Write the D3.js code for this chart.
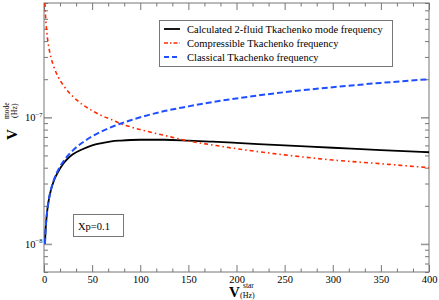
<!DOCTYPE html>
<html><head><meta charset="utf-8">
<script src="https://cdn.jsdelivr.net/npm/d3@7"></script>
<style>body{margin:0;background:#fff}svg{display:block}svg text{font-family:"Liberation Serif","Times New Roman","DejaVu Serif",serif !important}</style>
</head><body><svg id="c" width="439" height="300" font-family="Liberation Serif, Times New Roman, DejaVu Serif, serif"></svg>
<script>
// Data
const nuStar = [1,1.5,2,3,5,7.5,10,15,20,25,30,40,50,60,70,80,90,100,125,150,175,200,250,300,350,400];
const calculated2Fluid = [1.0e-8,1.22e-8,1.41e-8,1.73e-8,2.23e-8,2.72e-8,3.12e-8,3.75e-8,4.3e-8,4.75e-8,5.1e-8,5.6e-8,6.0e-8,6.25e-8,6.45e-8,6.55e-8,6.62e-8,6.65e-8,6.65e-8,6.55e-8,6.42e-8,6.28e-8,6.0e-8,5.75e-8,5.5e-8,5.3e-8];
const compressible = [8.0e-7,6.53e-7,5.66e-7,4.62e-7,3.58e-7,2.92e-7,2.53e-7,2.07e-7,1.79e-7,1.6e-7,1.46e-7,1.26e-7,1.13e-7,1.03e-7,9.6e-8,8.9e-8,8.4e-8,8.0e-8,7.2e-8,6.5e-8,6.05e-8,5.65e-8,5.05e-8,4.6e-8,4.3e-8,4.0e-8];
const classical = [1.0e-8,1.22e-8,1.41e-8,1.73e-8,2.24e-8,2.74e-8,3.16e-8,3.87e-8,4.47e-8,5.0e-8,5.48e-8,6.32e-8,7.07e-8,7.75e-8,8.37e-8,8.94e-8,9.49e-8,1.0e-7,1.12e-7,1.22e-7,1.32e-7,1.41e-7,1.58e-7,1.73e-7,1.87e-7,2.0e-7];
const seriesNames = ["Calculated 2-fluid Tkachenko mode frequency","Compressible Tkachenko frequency","Classical Tkachenko frequency"];
const xTicks = [0,50,100,150,200,250,300,350,400];
const yMajor = [1e-8,1e-7];
const annotation = "Xp=0.1";

const FONT="Liberation Serif, Times New Roman, DejaVu Serif, serif";
const L=44, R=429, T=3, B=272;
const svg=d3.select("#c");
const x=d3.scaleLinear().domain([0,400]).range([L,R]);
const y=d3.scaleLog().domain([6e-9,8e-7]).range([B,T]);

svg.append("defs").append("clipPath").attr("id","clip").append("rect")
  .attr("x",L).attr("y",T).attr("width",R-L).attr("height",B-T);

const xMinor=d3.range(0,400.01,50/3).filter(v=>Math.abs(v/50-Math.round(v/50))>0.01);
const yMinor=[];
[1e-9,1e-8,1e-7].forEach(d=>{for(let k=2;k<=9;k++){const v=k*d;if(v>=6e-9&&v<=8e-7)yMinor.push(v);}});

const tc="#777";
function clean(g){g.select(".domain").remove(); g.attr("font-family",FONT); g.selectAll("line").attr("stroke",tc); return g;}
const gb=clean(svg.append("g").attr("transform",`translate(0,${B})`).call(d3.axisBottom(x).tickValues(xTicks).tickSizeInner(-7).tickSizeOuter(0).tickPadding(4).tickFormat(d3.format("d"))));
gb.selectAll("text").attr("font-size",10.5).attr("fill","#000").attr("font-family",FONT);
clean(svg.append("g").attr("transform",`translate(0,${T})`).call(d3.axisTop(x).tickValues(xTicks).tickSizeInner(-7).tickSizeOuter(0).tickFormat("")));
clean(svg.append("g").attr("transform",`translate(0,${B})`).call(d3.axisBottom(x).tickValues(xMinor).tickSizeInner(-3.5).tickSizeOuter(0).tickFormat("")));
clean(svg.append("g").attr("transform",`translate(0,${T})`).call(d3.axisTop(x).tickValues(xMinor).tickSizeInner(-3.5).tickSizeOuter(0).tickFormat("")));
[[d3.axisLeft,L],[d3.axisRight,R]].forEach(([f,pos])=>{
  const g1=clean(svg.append("g").attr("transform",`translate(${pos},0)`).call(f(y).tickValues(yMajor).tickSizeInner(-8).tickSizeOuter(0).tickFormat("")));
  g1.selectAll("line").attr("stroke","#999").attr("stroke-width",1.6);
  clean(svg.append("g").attr("transform",`translate(${pos},0)`).call(f(y).tickValues(yMinor).tickSizeInner(-4).tickSizeOuter(0).tickFormat("")));
});
yMajor.forEach(v=>{
  const e=Math.round(Math.log10(v));
  const t=svg.append("text").attr("x",25).attr("y",y(v)+4).attr("font-size",10.5).attr("fill","#000").attr("font-family",FONT);
  t.append("tspan").text("10");
  t.append("tspan").attr("font-size",6.5).attr("dy",-4.5).text("\u2212"+Math.abs(e));
});
svg.append("rect").attr("x",L).attr("y",T).attr("width",R-L).attr("height",B-T)
  .attr("fill","none").attr("stroke",tc).attr("stroke-width",1);

const line=vals=>d3.line().x((d,i)=>x(nuStar[i])).y(d=>y(d)).curve(d3.curveMonotoneX)(vals);
const plot=svg.append("g").attr("clip-path","url(#clip)");
const styles=[
  {data:calculated2Fluid,color:"#000",w:1.8,dash:null},
  {data:compressible,color:"#ff2a00",w:1.6,dash:"4,3,1.5,3"},
  {data:classical,color:"#1f4fff",w:2,dash:"6,3"}
];
styles.forEach(s=>{
  plot.append("path").attr("d",line(s.data)).attr("fill","none").attr("stroke",s.color)
   .attr("stroke-width",s.w).attr("stroke-dasharray",s.dash);
});

const lg=svg.append("g").attr("font-family",FONT);
lg.append("rect").attr("x",159.5).attr("y",20.5).attr("width",233).attr("height",46)
  .attr("fill","#fff").attr("stroke",tc).attr("stroke-width",1);
seriesNames.forEach((n,i)=>{
  const yy=29+i*14;
  lg.append("line").attr("x1",164).attr("x2",180).attr("y1",yy).attr("y2",yy)
    .attr("stroke",styles[i].color).attr("stroke-width",styles[i].w).attr("stroke-dasharray",i==1?"4,2,1.5,2":(i==2?"5,3":null));
  lg.append("text").attr("x",187).attr("y",yy+3.5).attr("font-size",10.5).attr("fill","#000").attr("font-family",FONT).text(n);
});

svg.append("rect").attr("x",73.5).attr("y",214.5).attr("width",50).attr("height",22)
  .attr("fill","#fff").attr("stroke",tc);
svg.append("text").attr("x",78).attr("y",229.5).attr("font-size",10.5).attr("fill","#000").attr("font-family",FONT).text(annotation);

const xl=svg.append("g").attr("transform","translate(229,297)").attr("font-family",FONT);
xl.append("text").attr("font-size",15).attr("font-weight","bold").attr("font-family",FONT).text("V");
xl.append("text").attr("x",14).attr("y",-9).attr("font-size",7.5).attr("font-family",FONT).text("star");
xl.append("text").attr("x",11).attr("y",1).attr("font-size",8).attr("font-family",FONT).text("(Hz)");
const yl=svg.append("g").attr("transform","translate(17,140) rotate(-90)").attr("font-family",FONT);
yl.append("text").attr("font-size",15).attr("font-weight","bold").attr("font-family",FONT).text("V");
yl.append("text").attr("x",21).attr("y",-8).attr("font-size",7.5).attr("font-family",FONT).text("mode");
yl.append("text").attr("x",22).attr("y",0).attr("font-size",8).attr("font-family",FONT).text("(Hz)");
</script></body></html>
